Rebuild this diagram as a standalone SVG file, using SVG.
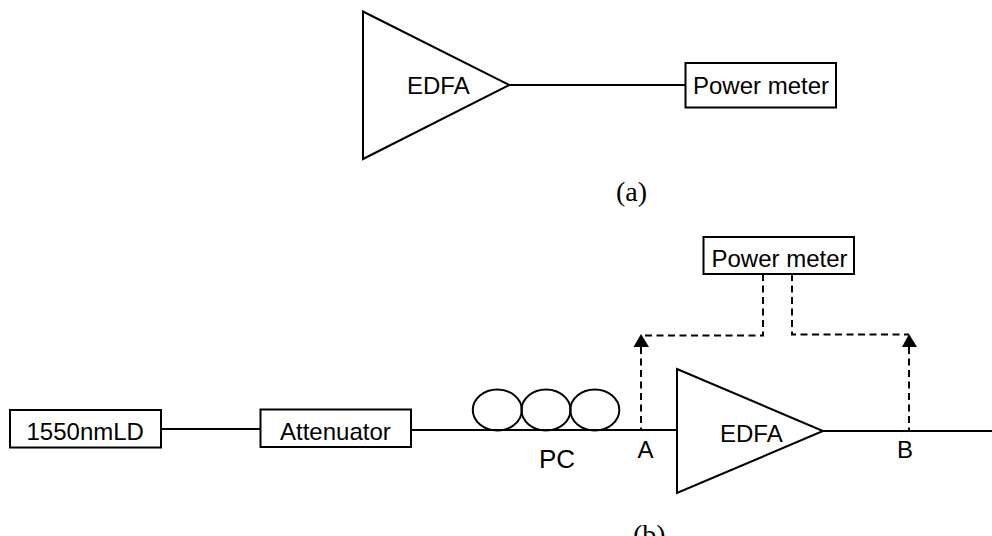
<svg xmlns="http://www.w3.org/2000/svg" width="992" height="536" viewBox="0 0 992 536">
<style>
.s{fill:none;stroke:#000;stroke-width:2}
.n{fill:#fff;stroke:#000;stroke-width:2}
.d{fill:none;stroke:#000;stroke-width:2;stroke-dasharray:7 4.5}
.t{font-family:"Liberation Sans",Arial,sans-serif;font-size:24px;fill:#000}
.c{font-family:"Liberation Serif","Times New Roman",serif;font-size:28px;fill:#000}
.h{fill:#000}
</style>
<rect width="992" height="536" fill="#fff"/>
<g id="connectors">
<path class="s" d="M509.500 85H685.500"/>
<path class="s" d="M161 429H260.500"/>
<path class="s" d="M411 430H677"/>
<path class="s" d="M823 431H992"/>
<path class="d" d="M763 274V335.500H641"/>
<path class="d" d="M641 347V430"/>
<path class="d" d="M792 274V334.500H909"/>
<path class="d" d="M909 347V431"/>
<polygon class="h" points="641,334 649,347 633.500,347"/>
<polygon class="h" points="909,334 917,347 902,347"/>
</g>
<g id="edfa-a"><polygon class="n" points="363,11.500 509.500,85 363,159"/><text class="t" x="407" y="94">EDFA</text></g>
<g id="power-meter-a"><rect class="n" x="685.500" y="63" width="150.500" height="44.500"/><text class="t" x="693" y="94">Power meter</text></g>
<g id="label-a"><text class="c" x="616" y="201">(a)</text></g>
<g id="power-meter-b"><rect class="n" x="703.500" y="237" width="150.500" height="37"/><text class="t" x="711.500" y="267">Power meter</text></g>
<g id="ld"><rect class="n" x="10" y="410" width="151" height="37.500"/><text class="t" x="26.500" y="440">1550nmLD</text></g>
<g id="attenuator"><rect class="n" x="260.500" y="409.500" width="150.500" height="37.500"/><text class="t" x="280" y="440">Attenuator</text></g>
<g id="pc">
<ellipse class="s" cx="497.300" cy="410" rx="24.500" ry="20.500"/>
<ellipse class="s" cx="546" cy="410" rx="24.500" ry="20.500"/>
<ellipse class="s" cx="594.800" cy="410" rx="24.500" ry="20.500"/>
<text class="t" style="font-size:26px" x="539" y="468">PC</text>
</g>
<g id="edfa-b"><polygon class="n" points="677,369 823,431 677,493"/><text class="t" x="720" y="442">EDFA</text></g>
<g id="point-a"><text class="t" x="637.500" y="458">A</text></g>
<g id="point-b"><text class="t" x="897" y="458">B</text></g>
<g id="label-b"><text class="c" x="633" y="544">(b)</text></g>
</svg>
